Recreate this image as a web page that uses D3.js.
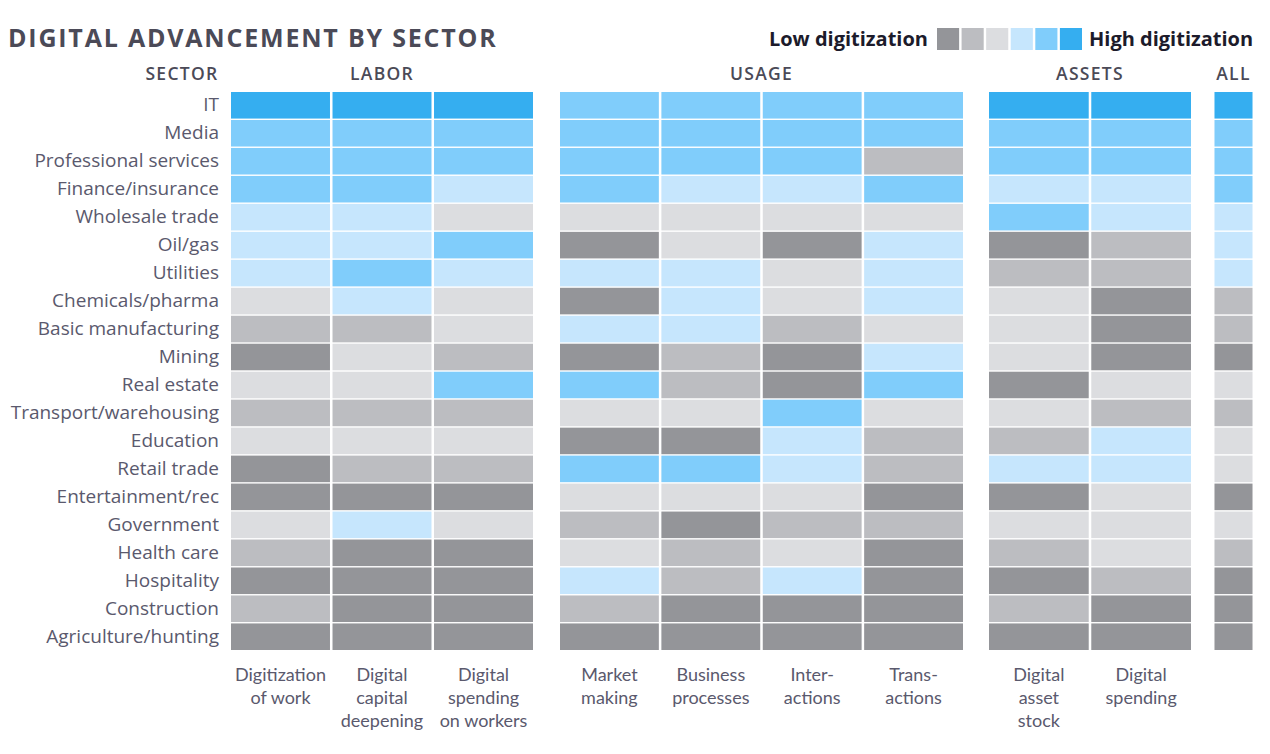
<!DOCTYPE html>
<html>
<head>
<meta charset="utf-8">
<script src="https://cdnjs.cloudflare.com/ajax/libs/d3/7.8.5/d3.min.js"></script>
<style>
  body { margin: 0; background: #fff; }
  svg { display: block; }
  .title { font-family: "Open Sans", sans-serif; font-weight: 700; font-size: 25px; fill: #4b4a57; letter-spacing: 1.8px; }
  .head { font-family: "Open Sans", sans-serif; font-weight: 600; font-size: 17.5px; fill: #4b4a57; letter-spacing: 1.3px; }
  .sector { font-family: "Open Sans", sans-serif; font-size: 19px; fill: #5a596d; }
  .colname { font-family: "Lato", sans-serif; font-size: 18px; fill: #5a596d; }
  .legend { font-family: "Open Sans", sans-serif; font-weight: 700; font-size: 20px; fill: #1c1b2b; }
</style>
</head>
<body>
<svg id="chart" width="1270" height="754"></svg>
<script>
// levels: 1 = lowest digitization ... 6 = highest
var sectors = ["IT", "Media", "Professional services", "Finance/insurance", "Wholesale trade",
  "Oil/gas", "Utilities", "Chemicals/pharma", "Basic manufacturing", "Mining", "Real estate",
  "Transport/warehousing", "Education", "Retail trade", "Entertainment/rec", "Government",
  "Health care", "Hospitality", "Construction", "Agriculture/hunting"];

var laborColumns = [["Digitization", "of work"], ["Digital", "capital", "deepening"], ["Digital", "spending", "on workers"]];
var usageColumns = [["Market", "making"], ["Business", "processes"], ["Inter-", "actions"], ["Trans-", "actions"]];
var assetColumns = [["Digital", "asset", "stock"], ["Digital", "spending"]];
var allColumns = [[]];

var laborValues = [
  [6,6,6],[5,5,5],[5,5,5],[5,5,4],[4,4,3],[4,4,5],[4,5,4],[3,4,3],[2,2,3],[1,3,2],
  [3,3,5],[2,2,2],[3,3,3],[1,2,2],[1,1,1],[3,4,3],[2,1,1],[1,1,1],[2,1,1],[1,1,1]];
var usageValues = [
  [5,5,5,5],[5,5,5,5],[5,5,5,2],[5,4,4,5],[3,3,3,3],[1,3,1,4],[4,4,3,4],[1,4,3,4],[4,4,2,3],[1,2,1,4],
  [5,2,1,5],[3,3,5,3],[1,1,4,2],[5,5,4,2],[3,3,3,1],[2,1,2,2],[3,2,3,1],[4,2,4,1],[2,1,1,1],[1,1,1,1]];
var assetValues = [
  [6,6],[5,5],[5,5],[4,4],[5,4],[1,2],[2,2],[3,1],[3,1],[3,1],
  [1,3],[3,2],[2,4],[4,4],[1,3],[3,3],[2,3],[1,2],[2,1],[1,1]];
var allValues = [
  [6],[5],[5],[5],[4],[4],[4],[2],[2],[1],
  [3],[2],[3],[3],[1],[3],[2],[1],[1],[1]];

var levels = [1, 2, 3, 4, 5, 6];
var levelColors = ["#949599", "#bcbdc1", "#dcdde0", "#c6e6fd", "#80cdfb", "#35aef0"];

var svg = d3.select("#chart");
var color = d3.scaleOrdinal().domain(levels).range(levelColors);

var groups = [
  {name: "LABOR", columns: laborColumns, values: laborValues, x0: 231, x1: 533},
  {name: "USAGE", columns: usageColumns, values: usageValues, x0: 560, x1: 963},
  {name: "ASSETS", columns: assetColumns, values: assetValues, x0: 989, x1: 1191},
  {name: "ALL", columns: allColumns, values: allValues, x0: 1214, x1: 1253}
];

var y = d3.scaleBand().domain(sectors).range([92, 650]).paddingInner(0.05);

// title
svg.append("text").attr("class", "title").attr("x", 8).attr("y", 47).text("DIGITAL ADVANCEMENT BY SECTOR");

// headers
svg.append("text").attr("class", "head").attr("x", 182).attr("y", 80).attr("text-anchor", "middle").text("SECTOR");

// sector labels
svg.append("g").selectAll("text")
  .data(sectors).join("text")
  .attr("class", "sector")
  .attr("x", 219)
  .attr("y", function(d) { return y(d) + y.bandwidth() / 2 + 6; })
  .attr("text-anchor", "end")
  .text(function(d) { return d; });

groups.forEach(function(grp) {
  var x = d3.scaleBand().domain(d3.range(grp.columns.length)).range([grp.x0, grp.x1]).paddingInner(0.025);
  var g = svg.append("g");

  g.append("text").attr("class", "head")
    .attr("x", (grp.x0 + grp.x1) / 2).attr("y", 80)
    .attr("text-anchor", "middle").text(grp.name);

  var cells = [];
  grp.values.forEach(function(row, i) {
    row.forEach(function(v, j) { cells.push({sector: sectors[i], col: j, v: v}); });
  });

  g.selectAll("rect").data(cells).join("rect")
    .attr("x", function(d) { return x(d.col); })
    .attr("y", function(d) { return y(d.sector); })
    .attr("width", x.bandwidth())
    .attr("height", y.bandwidth())
    .attr("fill", function(d) { return color(d.v); });

  // column names below
  grp.columns.forEach(function(lines, j) {
    var t = g.append("text").attr("class", "colname")
      .attr("x", x(j) + x.bandwidth() / 2).attr("y", 681)
      .attr("text-anchor", "middle");
    lines.forEach(function(line, k) {
      t.append("tspan").attr("x", x(j) + x.bandwidth() / 2).attr("dy", k === 0 ? 0 : 23).text(line);
    });
  });
});

// legend
var lx = d3.scaleBand().domain(levels).range([937, 1082]).paddingInner(0.1);
svg.append("text").attr("class", "legend").attr("x", 928).attr("y", 46).attr("text-anchor", "end").text("Low digitization");
svg.append("g").selectAll("rect").data(levels).join("rect")
  .attr("x", function(d) { return lx(d); })
  .attr("y", 28)
  .attr("width", lx.bandwidth())
  .attr("height", 22)
  .attr("fill", function(d) { return color(d); });
svg.append("text").attr("class", "legend").attr("x", 1089).attr("y", 46).text("High digitization");
</script>
</body>
</html>
